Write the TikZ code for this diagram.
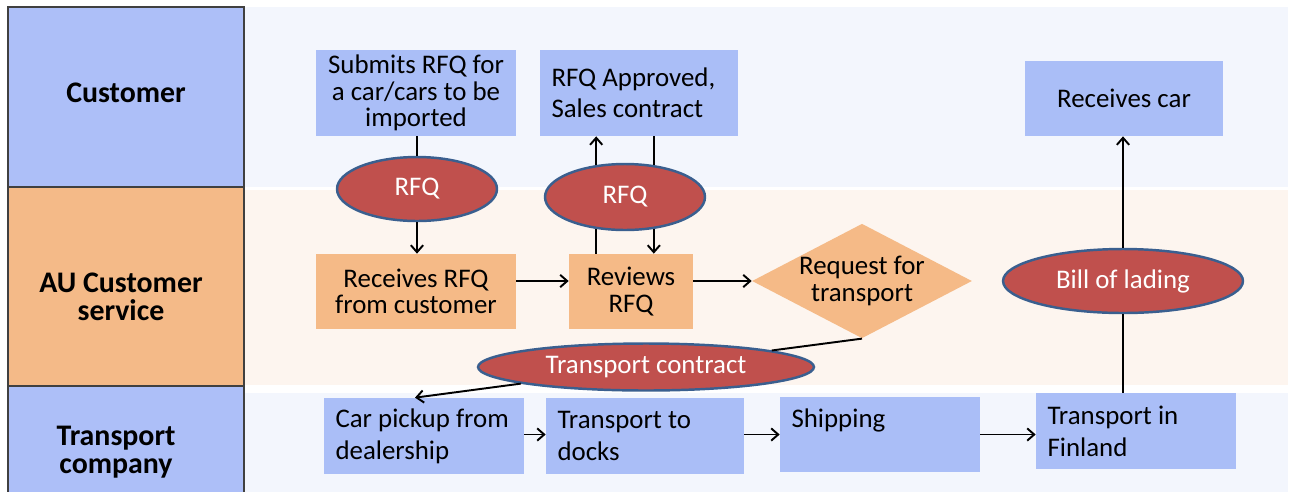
\documentclass[tikz,border=0pt]{standalone}
\usepackage{fontspec}
\setmainfont{Carlito}
\usepackage{xcolor}
\usetikzlibrary{arrows.meta,calc,shapes.geometric}
\definecolor{laneblue}{HTML}{ADBFF8}
\definecolor{laneorange}{HTML}{F4BA88}
\definecolor{lanegray}{HTML}{404040}
\definecolor{nodeblue}{HTML}{AABEF7}
\definecolor{nodeorange}{HTML}{F5BA87}
\definecolor{docred}{HTML}{C0504D}
\definecolor{docedge}{HTML}{3A5F8F}
\definecolor{bandblue}{HTML}{F3F6FD}
\definecolor{bandpeach}{HTML}{FDF5EF}

\begin{document}
\begin{tikzpicture}[x=0.02cm,y=-0.02cm,>={Straight Barb[length=4pt,width=7pt]},
  lanebox/.style={draw=lanegray,line width=0.8pt},
  lanetext/.style={align=center,inner sep=0pt,font=\fontsize{17}{15.8}\selectfont\bfseries},
  task/.style={inner sep=0pt,align=center,font=\fontsize{15.3}{15}\selectfont},
  lefttask/.style={inner xsep=0.23cm,inner ysep=0pt,align=flush left,font=\fontsize{15.3}{18.1}\selectfont},
  doc/.style={ellipse,fill=docred,draw=docedge,line width=1.4pt,inner sep=0pt,text=white,
    font=\fontsize{15.3}{15}\selectfont},
  flow/.style={line width=1.1pt}]
  \useasboundingbox (0,0) rectangle (1291,491);
  \fill[bandblue] (245,7) rectangle (1288,187);
  \fill[bandpeach] (245,190) rectangle (1288,385);
  \fill[bandblue] (245,393) rectangle (1288,495);

  \draw[lanebox,fill=laneblue] (8,7) rectangle (244,187);
  \draw[lanebox,fill=laneorange] (8,187) rectangle (244,386);
  \draw[lanebox,fill=laneblue] (8,386) rectangle (244,520);
  \node[lanetext] (custlane) at (126,93) {Customer};
  \node[lanetext] (aulane) at (121,297) {AU Customer\\service};
  \node[lanetext] (translane) at (116,452) {Transport\\company};

  \node[task,fill=nodeblue,minimum width=4cm,minimum height=1.72cm] (submit) at (416,93) {Submits RFQ for\\a car/cars to be\\imported};
  \node[lefttask,fill=nodeblue,text width=3.5cm,minimum height=1.72cm,font=\fontsize{15.3}{17.5}\selectfont] (approved) at (639,93) {\mbox{RFQ Approved,}\\\mbox{Sales contract}\\[4pt]};
  \node[task,fill=nodeblue,minimum width=3.96cm,minimum height=1.5cm] (getcar) at (1124,98.5) {Receives car};

  \node[task,fill=nodeorange,minimum width=4cm,minimum height=1.5cm] (getrfq) at (416,291.5) {Receives RFQ\\from customer};
  \node[task,fill=nodeorange,minimum width=2.48cm,minimum height=1.5cm] (review) at (631,291.5) {Reviews\\RFQ};
  \node[task,diamond,aspect=1.92,fill=nodeorange,minimum width=4.38cm,minimum height=2.28cm] (reqdiam) at (862,281) {Request for\\transport};

  \node[doc,minimum width=3.2cm,minimum height=1.28cm] (rfqa) at (417,189) {RFQ};
  \node[doc,minimum width=3.2cm,minimum height=1.32cm] (rfqb) at (625,197) {RFQ};
  \node[doc,minimum width=4.8cm,minimum height=1.28cm] (bill) at (1123,281) {Bill of lading};
  \node[doc,minimum width=6.72cm,minimum height=0.94cm] (contract) at (646,367) {Transport contract};

  \node[lefttask,fill=nodeblue,text width=3.54cm,minimum height=1.52cm] (pickup) at (424,436) {\mbox{Car pickup from}\\dealership};
  \node[lefttask,fill=nodeblue,text width=3.5cm,minimum height=1.52cm] (docks) at (645,436) {\mbox{Transport to}\\docks};
  \node[lefttask,fill=nodeblue,text width=3.54cm,minimum height=1.5cm] (ship) at (880,434.5) {Shipping\\~};
  \node[lefttask,fill=nodeblue,text width=3.54cm,minimum height=1.52cm] (finland) at (1136,431) {\mbox{Transport in}\\Finland};

  \draw[flow] (rfqa.north |- submit.south) -- (rfqa.north);
  \draw[flow,->] (rfqa.south) -- (getrfq.north -| rfqa.south);
  \draw[flow,->] (rfqb.132) -- (rfqb.132 |- approved.south);
  \draw[flow] (rfqb.228 |- review.north) -- (rfqb.228);
  \draw[flow] (rfqb.48 |- approved.south) -- (rfqb.48);
  \draw[flow,->] (rfqb.312) -- (rfqb.312 |- review.north);
  \draw[flow,->] (getrfq.east |- reqdiam) -- (review.west |- reqdiam);
  \draw[flow,->] (review.east |- reqdiam) -- (reqdiam.west);
  \draw[flow] (reqdiam.south) -- (contract);
  \draw[flow,->] (contract) -- ($(pickup.north)+(-9,0)$);
  \draw[flow,->] (pickup.east |- ship.east) -- (docks.west |- ship.east);
  \draw[flow,->] (docks.east |- ship.east) -- (ship.west);
  \draw[flow,->] (ship.east) -- (ship.east -| finland.west);
  \draw[flow] (finland.north -| bill.south) -- (bill.south);
  \draw[flow,->] (bill.north) -- (bill.north |- getcar.south);
\end{tikzpicture}
\end{document}
